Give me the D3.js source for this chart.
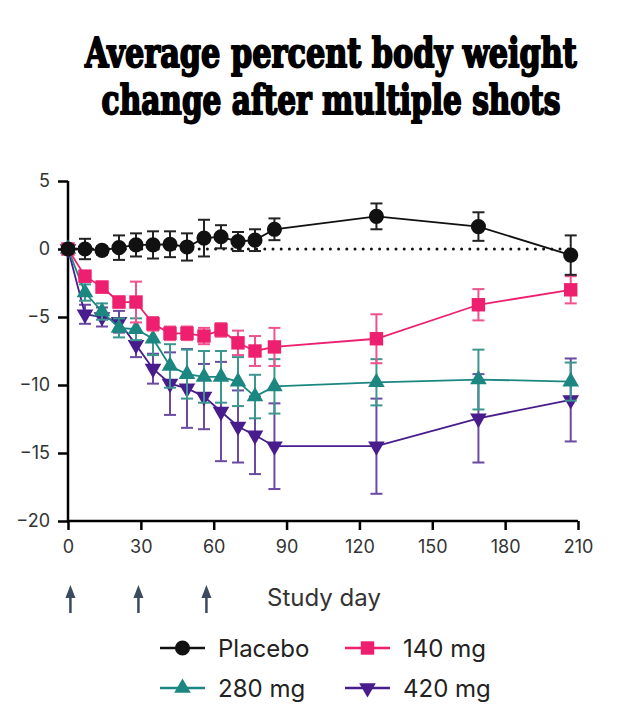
<!DOCTYPE html>
<html><head><meta charset="utf-8">
<script src="https://cdn.jsdelivr.net/npm/d3@7"></script>
<style>
html,body{margin:0;padding:0;background:#fff;}
svg{display:block;}
</style></head>
<body>
<svg id="chart" width="634" height="722"></svg>
<script>
// ---- data ----
const titleLines = ["Average percent body weight", "change after multiple shots"];
const days = [0, 7, 14, 21, 28, 35, 42, 49, 56, 63, 70, 77, 85, 127, 169, 207];
const placebo    = [0, 0, -0.1, 0.1, 0.3, 0.3, 0.35, 0.15, 0.8, 0.9, 0.55, 0.65, 1.45, 2.4, 1.65, -0.45];
const placeboErr = [0, 0.75, 0.3, 0.9, 0.85, 1.0, 0.95, 1.0, 1.35, 0.85, 0.7, 0.8, 0.8, 0.95, 1.05, 1.45];
const mg140      = [0, -2.0, -2.8, -3.9, -3.9, -5.5, -6.2, -6.2, -6.4, -5.95, -6.9, -7.5, -7.2, -6.6, -4.1, -3.0];
const mg140Err   = [0, 0.4, 0.4, 0.4, 1.5, 0.5, 0.5, 0.5, 0.6, 0.5, 0.9, 1.1, 1.4, 1.8, 1.15, 1.0];
const mg280      = [0, -3.2, -4.6, -5.8, -5.9, -6.6, -8.6, -9.2, -9.4, -9.4, -9.75, -10.85, -10.1, -9.8, -9.6, -9.75];
const mg280Err   = [0, 0.6, 0.6, 0.7, 0.8, 1.2, 1.6, 1.8, 1.9, 1.9, 1.8, 1.6, 2.0, 1.7, 2.2, 1.4];
const mg420      = [0, -4.8, -5.0, -5.35, -7.05, -8.8, -9.9, -10.25, -10.85, -11.95, -13.05, -13.7, -14.5, -14.5, -12.45, -11.1];
const mg420Err   = [0, 0.7, 0.7, 0.8, 0.9, 1.1, 2.3, 2.9, 2.4, 3.65, 2.65, 2.85, 3.15, 3.5, 3.25, 3.05];
const seriesNames = ["Placebo", "140 mg", "280 mg", "420 mg"];
const xTicks = [0, 30, 60, 90, 120, 150, 180, 210];
const yTicks = [5, 0, -5, -10, -15, -20];
const doseDays = [1, 29, 57];
const xLabel = "Study day";

// ---- styles ----
const colors = {"Placebo": "#111111", "140 mg": "#ee1f6e", "280 mg": "#1c8780", "420 mg": "#481c8c"};
const errColors = {"Placebo": "#222222", "140 mg": "#f0528d", "280 mg": "#3b9790", "420 mg": "#6a4aa3"};
const symbols = {"Placebo": d3.symbolCircle, "140 mg": d3.symbolSquare, "280 mg": d3.symbolTriangle, "420 mg": "down"};

const series = [
  {name: "420 mg", values: mg420, err: mg420Err},
  {name: "280 mg", values: mg280, err: mg280Err},
  {name: "140 mg", values: mg140, err: mg140Err},
  {name: "Placebo", values: placebo, err: placeboErr}
].map(s => ({...s, points: days.map((d, i) => ({day: d, v: s.values[i], e: s.err[i]}))}));

const svg = d3.select("#chart");
const font = "Inter, 'Noto Sans', sans-serif";

// title: fit width by font size, stretch vertically for the heavy condensed look
const titleSpec = [{w: 494, base: 67, cap: 30}, {w: 461, base: 114, cap: 30}];
titleLines.forEach((t, i) => {
  const g = svg.append("g");
  const txt = g.append("text")
    .attr("text-anchor", "middle")
    .attr("font-family", "'DejaVu Serif Condensed', 'DejaVu Serif', serif")
    .attr("font-weight", "bold")
    .attr("font-size", 40)
    .attr("fill", "#000")
    .attr("stroke", "#000").attr("stroke-width", 1.5).attr("stroke-linejoin", "round")
    .text(t);
  const w = txt.node().getComputedTextLength();
  const fs = 40 * (titleSpec[i].w - 2) / w;
  txt.attr("font-size", fs);
  const sy = titleSpec[i].cap / (0.73 * fs);
  g.attr("transform", `translate(331,${titleSpec[i].base}) scale(1,${sy})`);
});

const x = d3.scaleLinear().domain([0, 210]).range([68, 578]);
const y = d3.scaleLinear().domain([-20, 5]).range([521, 181]);

// zero dotted line
svg.append("line")
  .attr("x1", x(0)).attr("x2", x(207))
  .attr("y1", y(0)).attr("y2", y(0))
  .attr("stroke", "#111").attr("stroke-width", 3)
  .attr("stroke-linecap", "round")
  .attr("stroke-dasharray", "0,8.2");

// axes
const yAxis = d3.axisLeft(y).tickValues(yTicks).tickSize(10).tickPadding(8)
  .tickFormat(d => d < 0 ? "\u2212" + Math.abs(d) : String(d));
const gy = svg.append("g").attr("transform", `translate(${x(0)},0)`).call(yAxis);
const xAxis = d3.axisBottom(x).tickValues(xTicks).tickSize(9).tickPadding(10);
const gx = svg.append("g").attr("transform", `translate(0,${y(-20)})`).call(xAxis);
[gx, gy].forEach(g => {
  g.select(".domain").attr("stroke", "#000").attr("stroke-width", 2.5);
  g.selectAll(".tick line").attr("stroke", "#000").attr("stroke-width", 2.5);
  g.selectAll(".tick text").attr("font-family", font).attr("font-size", 18).attr("fill", "#333");
});
gx.select(".domain").attr("d", `M${x(0)},0H${x(210)}`);
gy.select(".domain").attr("d", `M0,${y(5)}V${y(-20)}`);

// series
const line = d3.line().x(d => x(d.day)).y(d => y(d.v));
const downTri = {draw(ctx, size) {
  const s = Math.sqrt(size / (Math.sqrt(3) / 4));
  const h = s * Math.sqrt(3) / 2;
  ctx.moveTo(-s / 2, -h / 3); ctx.lineTo(s / 2, -h / 3); ctx.lineTo(0, 2 * h / 3); ctx.closePath();
}};
function symPath(name, size) {
  const t = symbols[name] === "down" ? downTri : symbols[name];
  return d3.symbol().type(t).size(size)();
}
const symSize = {"Placebo": 180, "140 mg": 180, "280 mg": 120, "420 mg": 120};

series.forEach(s => {
  const g = svg.append("g");
  const eb = s.points.filter(p => p.e > 0);
  g.selectAll("line.eb").data(eb).join("line")
    .attr("x1", p => x(p.day)).attr("x2", p => x(p.day))
    .attr("y1", p => y(p.v + p.e)).attr("y2", p => y(p.v - p.e))
    .attr("stroke", errColors[s.name]).attr("stroke-width", 2);
  ["+", "-"].forEach(sign => {
    g.selectAll("line.cap" + (sign === "+" ? "u" : "d")).data(eb).join("line")
      .attr("x1", p => x(p.day) - 6).attr("x2", p => x(p.day) + 6)
      .attr("y1", p => y(sign === "+" ? p.v + p.e : p.v - p.e))
      .attr("y2", p => y(sign === "+" ? p.v + p.e : p.v - p.e))
      .attr("stroke", errColors[s.name]).attr("stroke-width", 2);
  });
  g.append("path").datum(s.points).attr("d", line)
    .attr("fill", "none").attr("stroke", colors[s.name]).attr("stroke-width", 1.8);
  g.selectAll("path.m").data(s.points).join("path")
    .attr("transform", p => `translate(${x(p.day)},${y(p.v)})`)
    .attr("d", symPath(s.name, symSize[s.name]))
    .attr("fill", colors[s.name]);
});

// dose arrows
const arrowColor = "#3b4a5e";
const ag = svg.append("g");
doseDays.forEach(d => {
  const ax = x(d);
  ag.append("line").attr("x1", ax).attr("x2", ax).attr("y1", 595).attr("y2", 613)
    .attr("stroke", arrowColor).attr("stroke-width", 2.5);
  ag.append("path").attr("d", `M${ax},585L${ax - 5},598L${ax + 5},598Z`).attr("fill", arrowColor);
});

// x label
svg.append("text").attr("x", 324).attr("y", 606).attr("text-anchor", "middle")
  .attr("font-family", font).attr("font-size", 24).attr("fill", "#333").text(xLabel);

// legend
const legendPos = [
  {name: "Placebo", lx: 160, ly: 648},
  {name: "140 mg", lx: 345, ly: 648},
  {name: "280 mg", lx: 160, ly: 688},
  {name: "420 mg", lx: 345, ly: 688}
];
const lg = svg.append("g");
legendPos.forEach(p => {
  lg.append("line").attr("x1", p.lx).attr("x2", p.lx + 45).attr("y1", p.ly).attr("y2", p.ly)
    .attr("stroke", colors[p.name]).attr("stroke-width", 2.5);
  lg.append("path").attr("transform", `translate(${p.lx + 22.5},${p.ly})`)
    .attr("d", symPath(p.name, symSize[p.name])).attr("fill", colors[p.name]);
  lg.append("text").attr("x", p.lx + 58).attr("y", p.ly + 9)
    .attr("font-family", font).attr("font-size", 24).attr("fill", "#222").text(p.name);
});
</script>
</body></html>
